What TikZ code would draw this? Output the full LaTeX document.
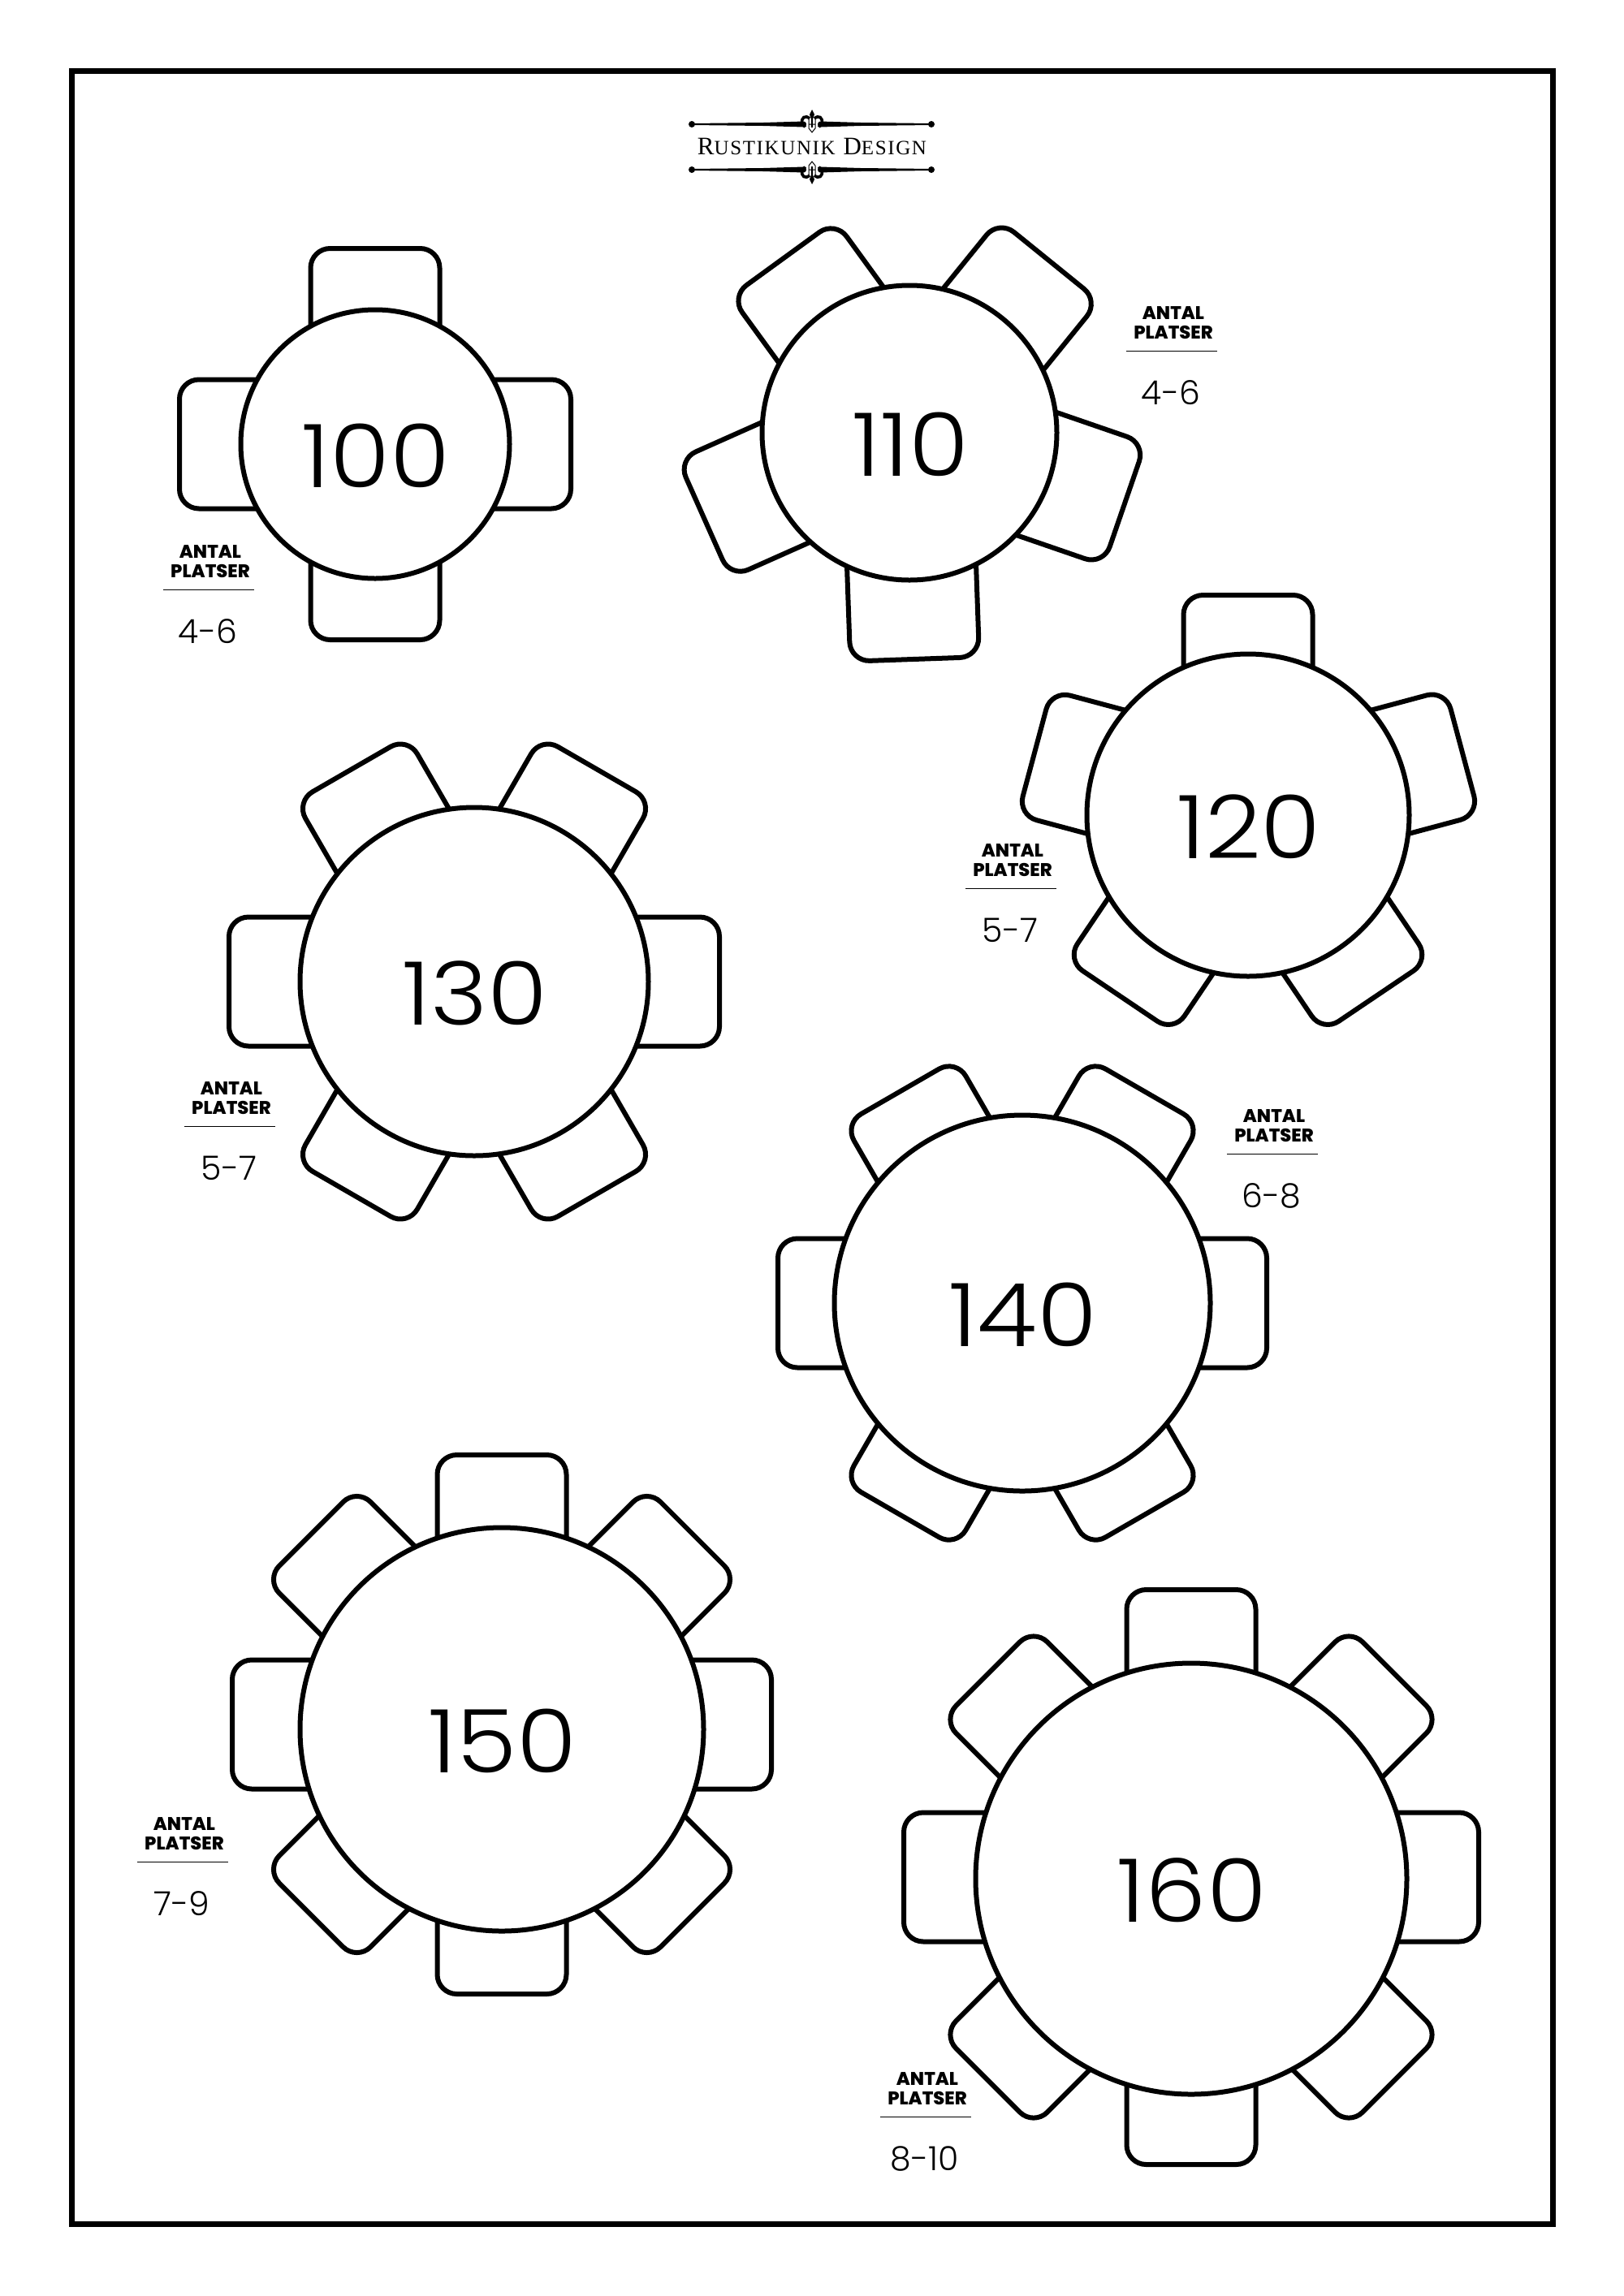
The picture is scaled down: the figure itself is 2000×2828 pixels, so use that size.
\documentclass[tikz,border=0pt]{standalone}
\usepackage{fontspec}
\setmainfont{Poppins Light}
\newfontfamily\numberfont[FakeStretch=1.11]{Poppins Light}
\newfontfamily\lightfont{Poppins Light}
\newfontfamily\heavyfont{Poppins ExtraBold}
\newfontfamily\logofont[LetterSpace=6.5]{Liberation Serif}
\usetikzlibrary{calc}

\begin{document}
\begin{tikzpicture}[x=0.5pt, y=0.5pt,
   chair/.style ={draw, line width=3pt, fill=white, rounded corners=12pt, inner sep=0pt, minimum width=79.5pt, minimum height=98pt},
   table/.style ={circle, draw, line width=3pt, fill=white, inner sep=0pt},
   number/.style ={font=\numberfont\fontsize{54}{54}\selectfont, inner sep=0pt},
   heading/.style ={font=\heavyfont\fontsize{11.3}{12}\selectfont, align=center, inner sep=0pt},
   seats/.style ={font=\lightfont\fontsize{20.5}{21}\selectfont, inner sep=0pt},
   logotext/.style ={font=\logofont, inner sep=0pt}]
   \useasboundingbox (0,0) rectangle (2000,-2828);
   \node[draw, line width=3.5pt, inner sep=0pt, minimum width=912pt, minimum height=1326pt] (frame) at (1000,-1413.5) {};

   % chairs: name/x/y/reach/angles
   \foreach \nm/\cx/\cy/\reach/\angs in {
      100/462/-547/244/{0,90,180,270},
      130/584/-1209/305/{0,60,120,180,240,300},
      140/1259/-1605/304/{0,60,120,180,240,300},
      150/618/-2124/335/{0,45,90,135,180,225,270,315},
      160/1467/-2312/357/{0,45,90,135,180,225,270,315}}{
      \coordinate (m\nm) at (\cx,\cy);
      \foreach \a in \angs
         \node[chair, rotate=\a-90] (s\nm-\a) at ($(m\nm)+(\a:\reach-101)$) {};
   }
   % tables 110 and 120 have their chairs set by hand
   \coordinate (m110) at (1120,-533);
   \coordinate (m120) at (1537,-1004);
   \foreach \a/\rot/\reach in {271/272/282, 342/341/282, 51/51/276, 126/126/268, 202/204/277}
      \node[chair, rotate=\rot-90] (s110-\a) at ($(m110)+(\a:\reach-101)$) {};
   \foreach \a/\rot/\reach in {90/90/274, 17/15/278, 163/165/277, 306/304/276, 234/236/276}
      \node[chair, rotate=\rot-90] (s120-\a) at ($(m120)+(\a:\reach-101)$) {};

   % tables: name/x/y/radius
   \foreach \nm/\cx/\cy/\r in {
      100/462/-547/167,
      110/1120/-533/183,
      120/1537/-1004/200,
      130/584/-1209/216,
      140/1259/-1605/233,
      150/618/-2130/250,
      160/1467/-2314/267}{
      \node[table, minimum size={(\r-1.5)*1pt}] (t\nm) at (\cx,\cy) {};
      \node[number] (n\nm) at ($(t\nm)+(1,-14)$) {\nm};
   }

   % seat labels: name/x/y of the rule/text
   \foreach \nm/\lx/\ly/\txt in {
      a/257/-726/4-6,
      b/1443/-432/4-6,
      c/1245/-1094/5-7,
      d/283/-1387/5-7,
      e/1567/-1421/6-8,
      f/225/-2293/7-9,
      g/1140/-2607/8-10}{
      \coordinate (l\nm) at (\lx-56,\ly);
      \coordinate (r\nm) at (\lx+56,\ly);
      \draw[line width=0.4pt] (l\nm) -- (r\nm);
      \node[heading] (h\nm) at (\lx+2,\ly+34) {ANTAL\\PLATSER};
      \node[seats] (p\nm) at (\lx-1,\ly-52) {\txt};
   }

   % logo
   \node[logotext, anchor=base] (logo) at (1000,-190) {\fontsize{15.5}{15.5}\selectfont R\fontsize{12.5}{12.5}\selectfont USTIKUNIK\fontsize{15.5}{15.5}\selectfont{} D\fontsize{12.5}{12.5}\selectfont ESIGN};
   \foreach \ys/\by in {1/-153,-1/-209}{
   \begin{scope}[shift={(1000,\by)}, yscale=\ys]
      \fill (-148,0) circle (4) (147,0) circle (4);
      \fill (-148,1) -- (-60,2) -- (-10,3.5) .. controls (-6,3) and (-6,-3) .. (-10,-3.5) -- (-60,-2) -- (-148,-1) -- cycle;
      \fill (148,1) -- (60,2) -- (10,3.5) .. controls (6,3) and (6,-3) .. (10,-3.5) -- (60,-2) -- (148,-1) -- cycle;
      \fill (0,18) -- (3,12) -- (1.2,7) -- (1.2,-4) -- (-1.2,-4) -- (-1.2,7) -- (-3,12) -- cycle;
      \draw[line width=1.8pt] (-3,7) .. controls (-8,12) and (-14,8) .. (-12,1) .. controls (-11,-3) and (-8,-3) .. (-8,-1);
      \draw[line width=1.8pt] (3,7) .. controls (8,12) and (14,8) .. (12,1) .. controls (11,-3) and (8,-3) .. (8,-1);
      \draw[line width=0.5pt] (-4,8) -- (-4,-5) (4,8) -- (4,-5) (-4,0) -- (4,0) (-4,-5) -- (0,-10) -- (4,-5);
   \end{scope}}
\end{tikzpicture}
\end{document}
